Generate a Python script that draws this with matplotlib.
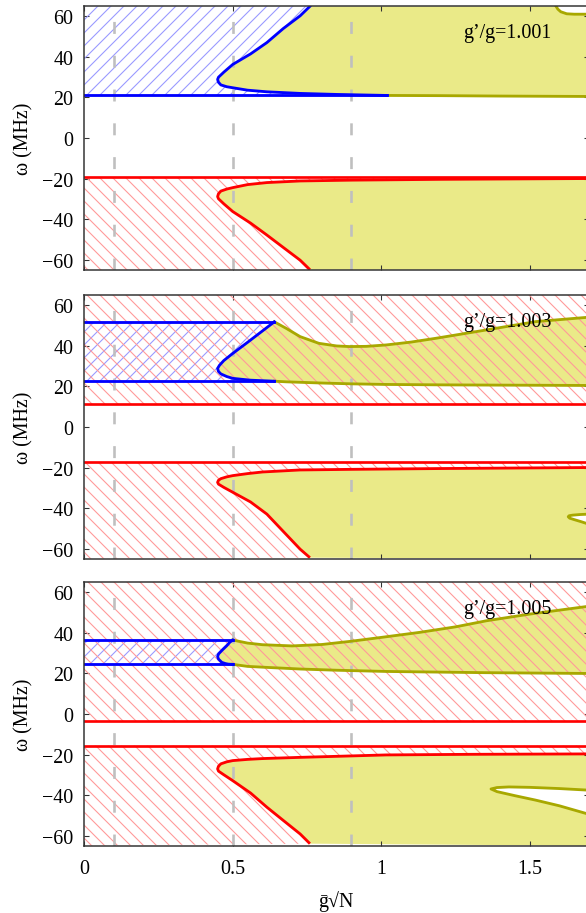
import numpy as np
import matplotlib
matplotlib.use('Agg')
from matplotlib import pyplot as plt

plt.rcParams['font.family'] = ['Liberation Serif', 'DejaVu Serif']
plt.rcParams['hatch.linewidth'] = 1.0

# panel labels
ratios = ['1.001', '1.003', '1.005']
vlines_x = [0.1, 0.5, 0.9]

# blue "<" curve, from upper end through the vertex to lower end
blue_x = [
    [0.76, 0.727, 0.67, 0.615, 0.56, 0.5, 0.47, 0.452, 0.449, 0.452, 0.46, 0.48, 0.5, 0.55, 0.615, 0.727, 0.85, 1.02],
    [0.64, 0.6, 0.55, 0.5, 0.47, 0.455, 0.449, 0.452, 0.46, 0.48, 0.5, 0.56, 0.64],
    [0.5, 0.49, 0.48, 0.465, 0.452, 0.449, 0.452, 0.463, 0.475, 0.485, 0.5],
]
blue_y = [
    [65.0, 60.3, 54.0, 47.1, 41.5, 36.3, 32.5, 30.0, 28.9, 27.5, 26.2, 25.3, 24.8, 23.6, 22.8, 22.0, 21.5, 21.0],
    [51.9, 47.4, 41.8, 36.3, 32.8, 30.4, 28.9, 27.4, 26.2, 24.9, 24.0, 23.1, 22.6],
    [36.5, 35.4, 33.7, 31.6, 29.6, 28.3, 27.1, 25.5, 24.9, 24.6, 24.5],
]
blue_top_line = [False, True, True]

# olive edges of the yellow band (start where the blue curve ends)
olive_lo_x = [
    [1.02, 1.2, 1.4, 1.7],
    [0.64, 0.68, 0.8, 0.9, 1.017, 1.2, 1.35, 1.7],
    [0.5, 0.55, 0.615, 0.727, 0.85, 1.017, 1.35, 1.7],
]
olive_lo_y = [
    [21.0, 20.9, 20.7, 20.5],
    [22.6, 22.3, 21.7, 21.3, 21.0, 20.8, 20.7, 20.5],
    [24.5, 23.5, 23.0, 22.2, 21.6, 21.0, 20.4, 20.0],
]
olive_up_x = [
    [],
    [0.64, 0.68, 0.727, 0.79, 0.85, 0.893, 0.95, 1.017, 1.1, 1.185, 1.354, 1.52, 1.7],
    [0.5, 0.55, 0.6, 0.7, 0.8, 0.893, 1.0, 1.13, 1.25, 1.354, 1.5, 1.7],
]
olive_up_y = [
    [],
    [51.9, 48.7, 44.6, 41.3, 40.0, 39.7, 39.8, 40.5, 41.9, 43.8, 47.9, 52.0, 54.2],
    [36.5, 35.0, 34.2, 33.6, 34.3, 35.8, 37.8, 40.3, 43.0, 46.0, 49.3, 53.2],
]

# olive tongues (white inside), from upper end at right edge through vertex
tongue_x = [
    [1.7, 1.65, 1.625, 1.605, 1.595, 1.589],
    [1.7, 1.67, 1.645, 1.633, 1.63, 1.635, 1.65, 1.675, 1.7],
    [1.7, 1.6, 1.5, 1.43, 1.39, 1.37, 1.39, 1.45, 1.52, 1.6, 1.7],
]
tongue_y = [
    [61.1, 61.1, 61.3, 62.3, 63.6, 65.0],
    [-43.0, -43.2, -43.5, -43.8, -44.3, -45.0, -45.7, -46.8, -48.0],
    [-37.6, -36.8, -36.2, -36.0, -36.3, -37.0, -38.3, -40.3, -42.5, -45.3, -49.5],
]

# red "<" curve, from bottom exit through the vertex to the right edge
red_x = [
    [0.76, 0.727, 0.67, 0.615, 0.56, 0.5, 0.47, 0.452, 0.449, 0.452, 0.46, 0.48, 0.5, 0.55, 0.615, 0.727, 0.9, 1.2, 1.7],
    [0.76, 0.727, 0.67, 0.615, 0.56, 0.5, 0.47, 0.452, 0.449, 0.452, 0.46, 0.48, 0.5, 0.55, 0.6, 0.727, 0.9, 1.2, 1.7],
    [0.76, 0.727, 0.67, 0.615, 0.56, 0.5, 0.47, 0.452, 0.449, 0.452, 0.46, 0.48, 0.5, 0.55, 0.6, 0.727, 1.017, 1.3, 1.7],
]
red_y = [
    [-65.0, -60.3, -54.0, -47.9, -42.0, -36.3, -32.5, -30.0, -28.9, -27.5, -26.2, -25.2, -24.5, -23.0, -22.0, -21.2, -20.8, -20.4, -20.0],
    [-64.5, -60.3, -51.5, -43.0, -37.0, -32.2, -29.8, -28.2, -27.3, -26.3, -25.5, -24.6, -24.0, -23.0, -22.2, -21.2, -20.9, -20.5, -20.0],
    [-64.0, -59.2, -52.5, -46.0, -39.0, -32.9, -30.0, -28.2, -27.1, -25.8, -24.6, -23.6, -23.0, -22.4, -22.0, -21.4, -20.2, -19.9, -19.7],
]
red_lines = [[-19.4], [11.4, -17.5], [-3.6, -15.6]]
red_hatch_top = [None, 11.4, -3.6]     # lower edge of the red hatch in the upper half
red_hatch_low = [-19.4, -17.5, -15.6]  # upper edge of the red hatch in the lower half

YEL = '#EAEA88'
OLV = '#A8A800'
BLU = '#0000FF'
RED = '#FF0000'
HRED = '#FF9999'
HBLU = '#9999FF'
FS = 18.5

dpi = 78
fig = plt.figure(figsize=(586 / dpi, 914 / dpi), dpi=dpi)
W, H = 586.0, 914.0
left = 84.3 / W
width = (589.0 - 84.3) / W
tops = [7.3, 296.3, 583.3]
ph = 263.4

axes = []
for i in range(3):
    ax = fig.add_axes([left, 1 - (tops[i] + ph) / H, width, ph / H])
    axes.append(ax)
    ax.set_xlim(0, 1.7)
    ax.set_ylim(-65, 65)
    x0, x1 = 0, 1.7
    y0, y1 = -65, 65

    bx, by = blue_x[i], blue_y[i]
    rx, ry = red_x[i], red_y[i]

    # yellow band (upper)
    px = list(bx) + olive_lo_x[i][1:]
    py = list(by) + olive_lo_y[i][1:]
    if i == 0:
        px += tongue_x[0]
        py += tongue_y[0]
    else:
        px += olive_up_x[i][::-1][:-1]
        py += olive_up_y[i][::-1][:-1]
    ax.fill(px, py, color=YEL, lw=0, zorder=1)

    # yellow band (lower)
    ax.fill(list(rx) + [x1], list(ry) + [y0], color=YEL, lw=0, zorder=1)

    # white tongues
    if i > 0:
        ax.fill(tongue_x[i], tongue_y[i], color='white', lw=0, zorder=1.5)

    # blue hatch left of the blue curve
    hx = [x0] + list(bx) + [x0]
    hy = [by[0]] + list(by) + [by[-1]]
    ax.fill(hx, hy, facecolor='none', edgecolor=HBLU, hatch='//', lw=0, zorder=2)

    # red hatch, lower half, left of the red curve
    lx = [x0] + list(rx) + [x1, x0]
    ly = [y0] + list(ry) + [red_hatch_low[i], red_hatch_low[i]]
    ax.fill(lx, ly, facecolor='none', edgecolor=HRED, hatch='\\\\', lw=0, zorder=2)

    # red hatch, upper half
    if red_hatch_top[i] is not None:
        ax.fill_between([x0, x1], red_hatch_top[i], y1, facecolor='none',
                        edgecolor=HRED, hatch='\\\\', lw=0, zorder=2)

    for xv in vlines_x:
        ax.axvline(xv, color='#BFBFBF', lw=2.4, dashes=(4.6, 8.4), zorder=3)

    lw = 2.6
    for yv in red_lines[i]:
        ax.axhline(yv, color=RED, lw=lw * 0.95, zorder=4)
    ax.plot(rx, ry, color=RED, lw=lw, zorder=4, solid_capstyle='butt')

    ax.plot(olive_lo_x[i], olive_lo_y[i], color=OLV, lw=lw, zorder=4)
    if olive_up_x[i]:
        ax.plot(olive_up_x[i], olive_up_y[i], color=OLV, lw=lw, zorder=4)
    ax.plot(tongue_x[i], tongue_y[i], color=OLV, lw=lw, zorder=4)

    ax.plot(bx, by, color=BLU, lw=lw, zorder=5)
    ax.plot([x0, bx[-1]], [by[-1], by[-1]], color=BLU, lw=lw, zorder=5)
    if blue_top_line[i]:
        ax.plot([x0, bx[0]], [by[0], by[0]], color=BLU, lw=lw, zorder=5)

    ax.text(1.276, 52, u'g\u2019/g=' + ratios[i], fontsize=FS, va='center',
            ha='left', zorder=6)

    ax.set_yticks([-60, -40, -20, 0, 20, 40, 60])
    ax.set_xticks([0, 0.5, 1, 1.5])
    ax.set_xticklabels(['0', '0.5', '1', '1.5'])
    ax.tick_params(direction='in', top=True, right=True, length=4.6, width=1.0,
                   labelsize=FS, pad=12, color='#333333')
    ax.tick_params(axis='y', pad=10)
    for s in ax.spines.values():
        s.set_linewidth(1.4)
        s.set_color('#333333')
        s.set_zorder(7)
    if i < 2:
        ax.tick_params(labelbottom=False)
    ax.set_ylabel(u'\u03c9 (MHz)', fontsize=FS)
    ax.yaxis.set_label_coords(-0.1, 0.5)

axes[2].set_xlabel(u'\u1e21\u221aN', fontsize=FS)
axes[2].xaxis.set_label_coords(0.499, -0.17)

fig.savefig('out.png', dpi=dpi)
